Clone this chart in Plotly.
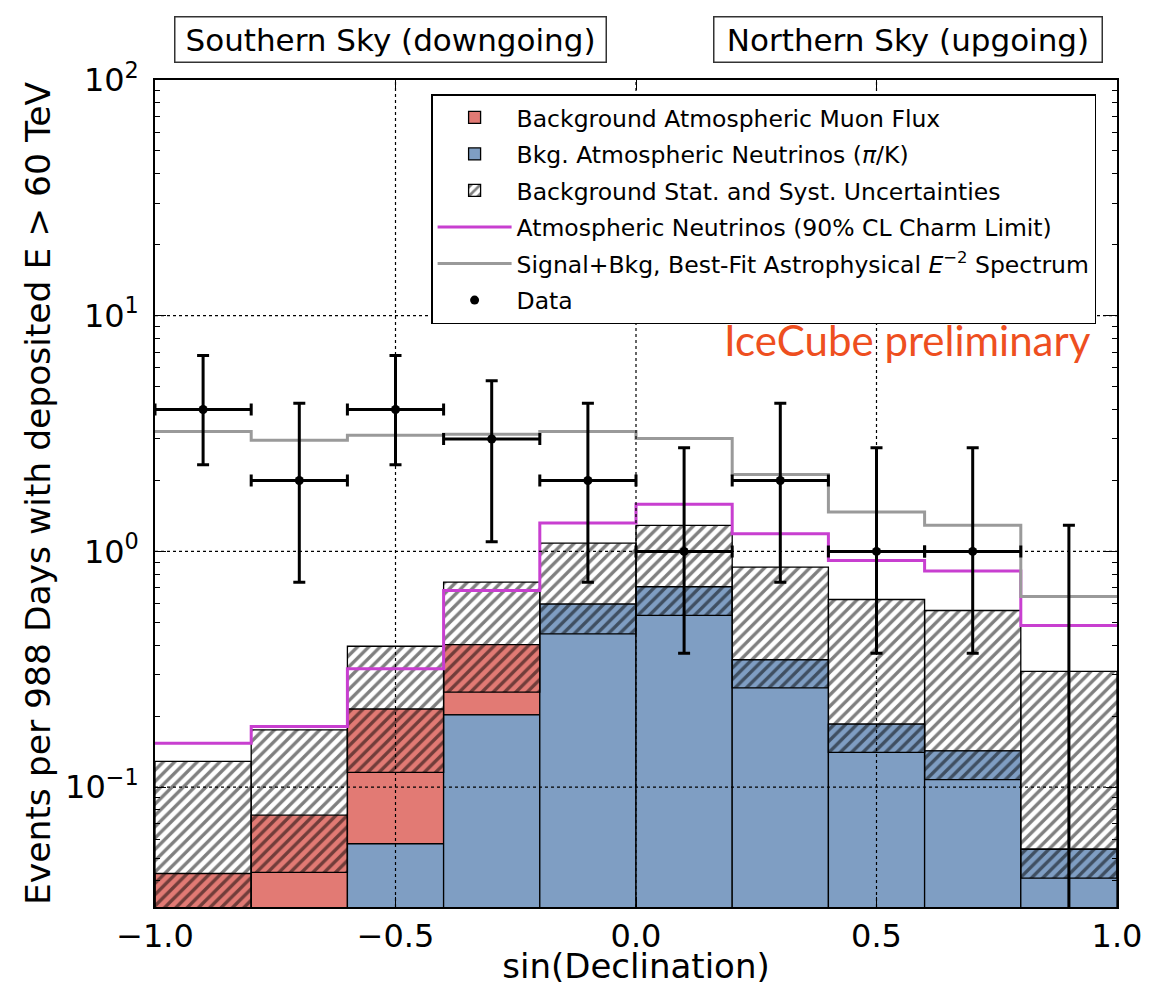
import numpy as np
import plotly.graph_objects as go

# ---------------- data ----------------
bin_edges = [-1.0, -0.8, -0.6, -0.4, -0.2, 0.0, 0.2, 0.4, 0.6, 0.8, 1.0]

# atmospheric neutrinos (pi/K) and atmospheric muons (stacked)
nu_bkg = [0.012, 0.015, 0.0575, 0.2025, 0.598, 0.708, 0.347, 0.185, 0.1425, 0.0545]
mu_bkg = [0.031, 0.061, 0.157, 0.200, 0.0, 0.0, 0.0, 0.0, 0.0, 0.0]

# background stat.+syst. uncertainty band (lower / upper edge)
band_lo = [0.0142, 0.0435, 0.1155, 0.2527, 0.447, 0.535, 0.2637, 0.1405, 0.1076, 0.0411]
band_hi = [0.1287, 0.175, 0.396, 0.741, 1.084, 1.29, 0.858, 0.625, 0.5615, 0.310]

# atmospheric neutrinos with 90% CL charm limit
charm_limit = [0.1535, 0.1807, 0.3177, 0.683, 1.319, 1.584, 1.189, 0.916, 0.825, 0.485]

# signal + background, best-fit astrophysical E^-2
signal_bkg = [3.23, 2.96, 3.11, 3.14, 3.23, 3.01, 2.12, 1.47, 1.29, 0.644]

# data (event counts) with 68% confidence intervals
data_counts = [4, 2, 4, 3, 2, 1, 2, 1, 1, 0]
data_hi = [6.78, 4.25, 6.78, 5.30, 4.25, 2.75, 4.25, 2.75, 2.75, 1.29]
data_lo = [2.33, 0.74, 2.33, 1.10, 0.74, 0.37, 0.74, 0.37, 0.37, 0.0]

x_ticks = [-1.0, -0.5, 0.0, 0.5, 1.0]
x_ticktext = ["\u22121.0", "\u22120.5", "0.0", "0.5", "1.0"]
y_ticks = [0.1, 1, 10, 100]
y_ticktext = ["10<sup>\u22121</sup>", "10<sup>0</sup>", "10<sup>1</sup>", "10<sup>2</sup>"]

# ---------------- derived ----------------
edges = np.array(bin_edges)
centers = 0.5 * (edges[:-1] + edges[1:])
widths = np.diff(edges)
nu = np.array(nu_bkg)
mu = np.array(mu_bkg)
lo = np.array(band_lo)
hi = np.array(band_hi)

RED = "#e27a74"
BLUE = "#7f9ec3"
MAGENTA = "#c83fd0"
GRAY = "#9a9a9a"
FONT = "DejaVu Sans"

YMIN = 0.031
floor = 1e-3  # stand-in for zero counts on the log axis (off-plot)

fig = go.Figure()

fig.add_trace(go.Bar(
    x=centers, y=mu, base=nu, width=widths, legendgroup="g1",
    name="Background Atmospheric Muon Flux",
    marker=dict(color=RED, line=dict(color="black", width=1.3)),
))
fig.add_trace(go.Bar(
    x=centers, y=nu, width=widths, legendgroup="g2",
    name="Bkg. Atmospheric Neutrinos (<i>\u03c0</i>/K)",
    marker=dict(color=BLUE, line=dict(color="black", width=1.3)),
))
fig.add_trace(go.Bar(
    x=centers, y=hi - lo, base=lo, width=widths, legendgroup="g3",
    name="Background Stat. and Syst. Uncertainties",
    marker=dict(color="rgba(0,0,0,0)", line=dict(color="black", width=1.3),
                pattern=dict(shape="/", fgcolor="black", bgcolor="rgba(0,0,0,0)",
                             size=8, solidity=0.42)),
))

step_x = list(edges)
fig.add_trace(go.Scatter(
    x=step_x, y=list(charm_limit) + [charm_limit[-1]], legendgroup="g4",
    mode="lines", line=dict(color=MAGENTA, width=3, shape="hv"),
    name="Atmospheric Neutrinos (90% CL Charm Limit)",
))
fig.add_trace(go.Scatter(
    x=step_x, y=list(signal_bkg) + [signal_bkg[-1]], legendgroup="g5",
    mode="lines", line=dict(color=GRAY, width=3, shape="hv"),
    name="Signal+Bkg, Best-Fit Astrophysical <i>E</i><sup>\u22122</sup> Spectrum",
))

counts = np.array(data_counts, dtype=float)
y_plot = np.where(counts > 0, counts, floor)
err_plus = np.array(data_hi) - y_plot
err_minus = np.clip(y_plot - np.maximum(np.array(data_lo), floor * 0.5), 0, None)
err_x = np.where(counts > 0, widths / 2, 0.0)

fig.add_trace(go.Scatter(
    x=centers, y=y_plot, mode="markers", name="Data", legendgroup="g6",
    marker=dict(color="black", size=9),
    error_y=dict(type="data", symmetric=False, array=err_plus, arrayminus=err_minus,
                 color="black", thickness=3, width=6),
    error_x=dict(type="data", array=err_x, color="black", thickness=3, width=6),
))

# grid lines drawn above the histograms (as in the reference)
shapes = []
for xv in x_ticks[1:-1]:
    shapes.append(dict(type="line", xref="x", yref="paper", x0=xv, x1=xv, y0=0, y1=1,
                       line=dict(color="black", width=1.2, dash="3px,3px"), layer="above"))
for yv in y_ticks[:-1]:
    shapes.append(dict(type="line", xref="paper", yref="y", x0=0, x1=1, y0=yv, y1=yv,
                       line=dict(color="black", width=1.2, dash="3px,3px"), layer="above"))

minor_vals = [k * 10.0 ** d for d in range(-2, 2) for k in range(2, 10)]

fig.update_layout(
    width=1170, height=986,
    margin=dict(l=155, r=53, t=80, b=79, autoexpand=False),
    paper_bgcolor="white", plot_bgcolor="white",
    barmode="overlay",
    font=dict(family=FONT, color="black", size=24),
    shapes=shapes,
    legend=dict(
        x=0.287, y=0.983, xanchor="left", yanchor="top",
        bgcolor="white", bordercolor="black", borderwidth=1.5,
        font=dict(family=FONT, size=23.5, color="black"),
        tracegroupgap=3, itemwidth=74,
    ),
    xaxis=dict(
        range=[-1, 1], tickvals=x_ticks, ticktext=x_ticktext,
        ticks="inside", ticklen=10, tickwidth=1.2, tickcolor="black",
        showline=True, linecolor="black", linewidth=1.5, mirror="ticks",
        showgrid=False, zeroline=False, automargin=False,
        tickfont=dict(family=FONT, size=32),
        title=dict(text="sin(Declination)", font=dict(family=FONT, size=34), standoff=7),
    ),
    yaxis=dict(
        type="log", range=[np.log10(YMIN), 2],
        tickvals=y_ticks, ticktext=y_ticktext,
        ticks="inside", ticklen=11, tickwidth=1.2, tickcolor="black",
        minor=dict(tickvals=minor_vals, ticks="inside", ticklen=5, tickwidth=1, tickcolor="black"),
        showline=True, linecolor="black", linewidth=1.5, mirror="ticks",
        showgrid=False, zeroline=False, automargin=False,
        tickfont=dict(family=FONT, size=32), ticklabelstandoff=8,
        title=dict(text="Events per 988 Days with deposited E > 60 TeV",
                   font=dict(family=FONT, size=34.5), standoff=4),
    ),
    annotations=[
        dict(text="Southern Sky (downgoing)", xref="paper", yref="paper",
             x=0.2453, y=1.049, xanchor="center", yanchor="middle", showarrow=False,
             font=dict(family=FONT, size=31), bgcolor="white", width=420, height=34,
             bordercolor="#333", borderwidth=1.5, borderpad=5),
        dict(text="Northern Sky (upgoing)", xref="paper", yref="paper",
             x=0.7827, y=1.049, xanchor="center", yanchor="middle", showarrow=False,
             font=dict(family=FONT, size=31), bgcolor="white", width=377, height=34,
             bordercolor="#333", borderwidth=1.5, borderpad=5),
        dict(text="IceCube preliminary", xref="paper", yref="paper",
             x=0.975, y=0.686, xanchor="right", yanchor="middle", showarrow=False,
             font=dict(family="Lato", size=42, color="#ee4f1f")),
    ],
)

fig.write_html("out.html", config={"displayModeBar": False},
               post_script="document.body.style.margin='0';")
